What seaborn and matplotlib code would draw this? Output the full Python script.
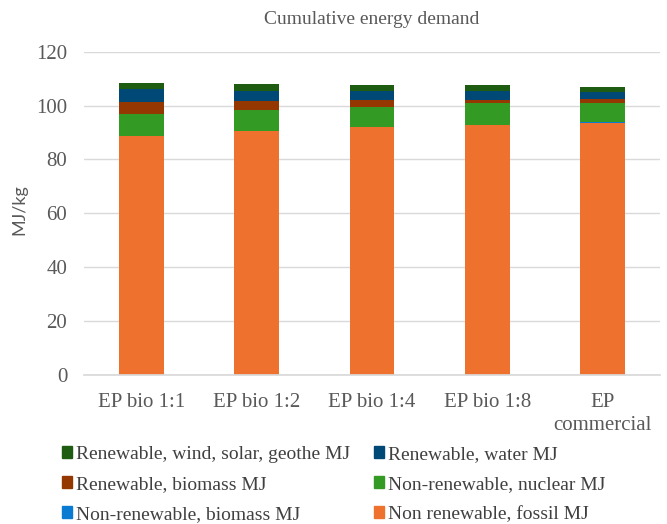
import numpy as np
import pandas as pd
import matplotlib
matplotlib.use("Agg")
import matplotlib.pyplot as plt
import seaborn as sns

categories = ["EP bio 1:1", "EP bio 1:2", "EP bio 1:4", "EP bio 1:8", "EP\ncommercial"]
fossil = [88.7, 90.4, 91.9, 92.8, 93.5]
nonren_biomass = [0.1, 0.1, 0.1, 0.1, 0.5]
nuclear = [8.1, 7.7, 7.5, 8.0, 6.8]
ren_biomass = [4.6, 3.5, 2.6, 1.2, 1.5]
water = [4.5, 3.7, 3.3, 3.3, 2.8]
wind = [2.3, 2.6, 2.4, 2.1, 1.8]

series_names = ["Non renewable, fossil MJ", "Non-renewable, biomass MJ",
                "Non-renewable, nuclear MJ", "Renewable, biomass MJ",
                "Renewable, water MJ", "Renewable, wind, solar, geothe MJ"]
series_vals = [fossil, nonren_biomass, nuclear, ren_biomass, water, wind]
colors = ["#EE712D", "#0A7BD2", "#339A23", "#943700", "#004876", "#1E5C12"]

sns.set_theme(style="white")
plt.rcParams['font.family'] = ['Liberation Serif', 'DejaVu Serif']

fig = plt.figure(figsize=(6.67, 5.24), dpi=100)
ax = fig.add_axes([84/667, 1-375/524, 576/667, (375-51.7)/524])

cum = np.cumsum(np.array(series_vals), axis=0)
handles = {}
for i in range(len(series_names)-1, -1, -1):
    df = pd.DataFrame({"cat": categories, "val": cum[i]})
    sns.barplot(data=df, x="cat", y="val", color=colors[i], width=0.39,
                saturation=1, ax=ax, edgecolor="none", linewidth=0)
    handles[series_names[i]] = plt.Rectangle((0, 0), 1, 1, color=colors[i])

ax.set_ylim(0, 120)
ax.set_yticks(range(0, 121, 20))
ax.yaxis.grid(True, color="#D9D9D9", linewidth=1)
ax.set_axisbelow(True)
for s in ["top", "right", "left"]:
    ax.spines[s].set_visible(False)
ax.spines["bottom"].set_color("#D9D9D9")
ax.tick_params(axis="x", length=0, labelsize=15, colors="#595959", pad=13)
ax.tick_params(axis="y", length=0, labelsize=15, colors="#595959", pad=12)
for t in ax.get_xticklabels():
    t.set_linespacing(1.3)
ax.set_xlabel("")
ax.set_ylabel("MJ/kg", fontsize=13, color="#595959", fontfamily="Lato")
ax.yaxis.set_label_coords(-0.099, 0.513)
ax.set_title("Cumulative energy demand", fontsize=14, color="#595959", pad=20)

order = ["Renewable, wind, solar, geothe MJ", "Renewable, biomass MJ", "Non-renewable, biomass MJ",
         "Renewable, water MJ", "Non-renewable, nuclear MJ", "Non renewable, fossil MJ"]
leg = fig.legend([handles[n] for n in order], order, ncol=2, loc="lower left",
                 bbox_to_anchor=(50/667, -0.02), frameon=False, fontsize=14,
                 handlelength=0.55, handleheight=0.55, handletextpad=0.2,
                 columnspacing=1.2, labelspacing=0.66, borderpad=0.1,
                 labelcolor="#404040")

fig.savefig("out.png", dpi=100)
